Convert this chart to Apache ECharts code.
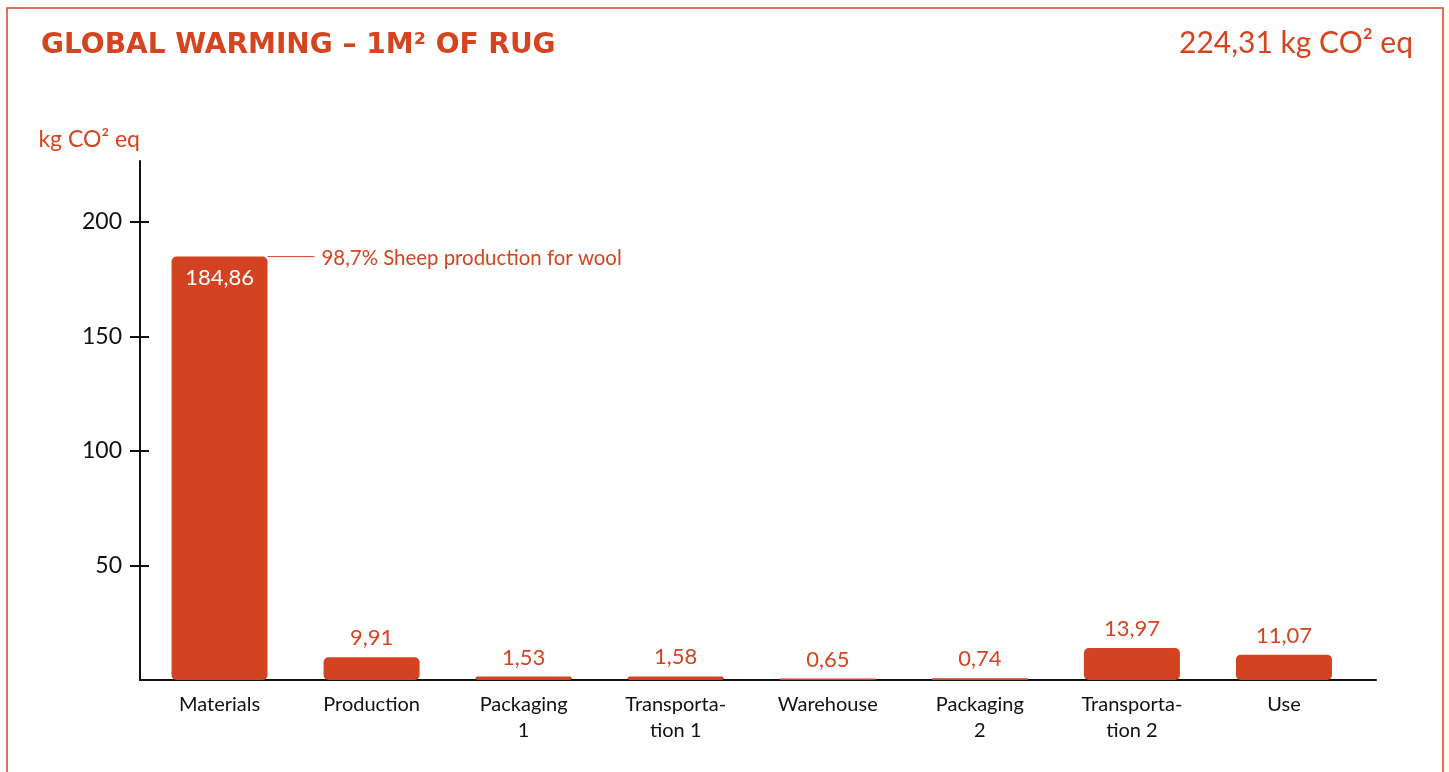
<!DOCTYPE html>
<html>
<head>
<meta charset="utf-8">
<script src="https://cdn.jsdelivr.net/npm/echarts@6/dist/echarts.min.js"></script>
<style>
html,body{margin:0;padding:0;background:#fff;}
#chart{width:1449px;height:772px;}
</style>
</head>
<body>
<div id="chart"></div>
<script>
const chartTitle = 'GLOBAL WARMING – 1M² OF RUG';
const totalText = '224,31 kg CO² eq';
const unitName = 'kg CO² eq';
const categories = ['Materials', 'Production', 'Packaging\n1', 'Transporta-\ntion 1', 'Warehouse', 'Packaging\n2', 'Transporta-\ntion 2', 'Use'];
const values = [184.86, 9.91, 1.53, 1.58, 0.65, 0.74, 13.97, 11.07];
const yTicks = [50, 100, 150, 200];
const yMax = 226.6;
const annotationCategory = 'Materials';
const annotationText = '98,7% Sheep production for wool';

const ORANGE = '#D6441F';
const BAR = '#D34322';
const FONT = 'Lato, "Open Sans", sans-serif';
const BAR_W = 96;

const fmt = v => v.toFixed(2).replace('.', ',');

const chart = echarts.init(document.getElementById('chart'));
const annIdx = categories.indexOf(annotationCategory);

chart.setOption({
  animation: false,
  backgroundColor: '#fff',
  title: [
    { text: chartTitle, left: 36, top: 27,
      textStyle: { color: ORANGE, fontFamily: '"DejaVu Sans", sans-serif', fontWeight: 'bold', fontSize: 28 } },
    { text: totalText, right: 31, top: 23,
      textStyle: { color: ORANGE, fontFamily: FONT, fontWeight: 'normal', fontSize: 30 } }
  ],
  graphic: [
    { type: 'rect', shape: { x: 7, y: 8, width: 1436, height: 800 },
      style: { fill: 'none', stroke: ORANGE, lineWidth: 1.5 }, silent: true }
  ],
  grid: [
    { left: 140, right: 73, top: 161, bottom: 92 },
    { left: 143.5, right: 89, top: 161, bottom: 92 }
  ],
  xAxis: [
    { type: 'category', gridIndex: 0, data: categories,
      axisLine: { lineStyle: { color: '#111', width: 2 } },
      axisTick: { show: false }, axisLabel: { show: false } },
    { type: 'category', gridIndex: 1, data: categories,
      axisLine: { show: false }, axisTick: { show: false },
      axisLabel: { color: '#111', fontFamily: FONT, fontSize: 20, lineHeight: 26, margin: 12, interval: 0 } }
  ],
  yAxis: [
    { type: 'value', gridIndex: 0, min: 0, max: yMax, interval: 50,
      name: unitName, nameLocation: 'end', nameGap: 10,
      nameTextStyle: { color: ORANGE, fontFamily: FONT, fontSize: 23, align: 'right', verticalAlign: 'bottom' },
      axisLine: { show: true, lineStyle: { color: '#111', width: 2 } },
      axisTick: { show: true, length: 10, customValues: yTicks, lineStyle: { color: '#111', width: 2 } },
      axisLabel: { customValues: yTicks, color: '#111', fontFamily: FONT, fontSize: 23, margin: 18 },
      splitLine: { show: false } },
    { type: 'value', gridIndex: 0, min: 0, max: yMax, interval: 50, position: 'left',
      axisLine: { show: false },
      axisTick: { show: true, inside: true, length: 9, customValues: yTicks, lineStyle: { color: '#111', width: 2 } },
      axisLabel: { show: false }, splitLine: { show: false } },
    { type: 'value', gridIndex: 1, min: 0, max: yMax, interval: 50, show: false, splitLine: { show: false } }
  ],
  series: [
    { type: 'bar', xAxisIndex: 1, yAxisIndex: 2, barWidth: BAR_W,
      itemStyle: { color: BAR, borderRadius: 5 },
      label: { show: true, position: 'top', distance: 8, color: ORANGE, fontFamily: FONT, fontSize: 22,
        formatter: p => fmt(p.value) },
      data: values.map((v, i) => i === annIdx ? {
        value: v,
        label: { position: 'insideTop', distance: 10, color: '#fff' }
      } : v)
    },
    { type: 'custom', xAxisIndex: 1, yAxisIndex: 2, silent: true,
      data: [[annIdx, values[annIdx]]],
      renderItem: (params, api) => {
        const p = api.coord([api.value(0), api.value(1)]);
        const x0 = p[0] + BAR_W / 2;
        return { type: 'group', children: [
          { type: 'line', shape: { x1: x0, y1: p[1], x2: x0 + 47, y2: p[1] },
            style: { stroke: ORANGE, lineWidth: 1 } },
          { type: 'text', x: x0 + 54, y: p[1] + 2,
            style: { text: annotationText, fill: ORANGE, font: '20.4px ' + FONT, verticalAlign: 'middle', align: 'left' } }
        ] };
      }
    }
  ]
});
</script>
</body>
</html>
